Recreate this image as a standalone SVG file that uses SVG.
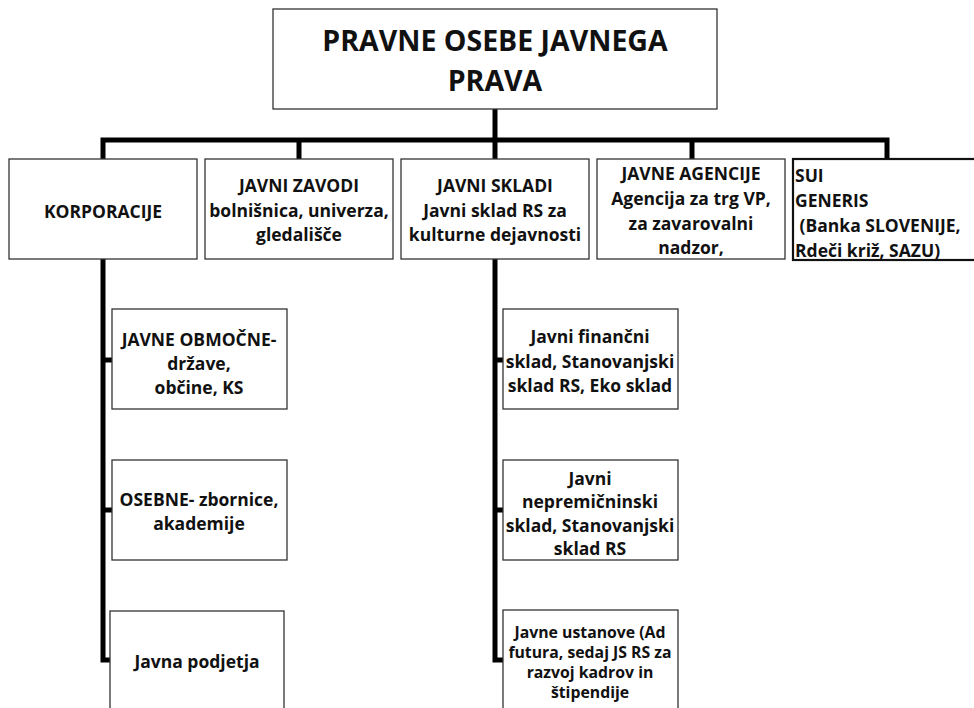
<svg xmlns="http://www.w3.org/2000/svg" width="974" height="708" viewBox="0 0 974 708">
<style>
.box{fill:#fff;stroke:#333;stroke-width:1.3}
.box2{fill:#fff;stroke:#111;stroke-width:2.2}
.t{font-family:"Open Sans",Lato,sans-serif;font-weight:bold;font-size:17.5px;fill:#111;text-anchor:middle}
.tl{text-anchor:start}
.s{font-size:15.8px}
.title{font-size:28.5px}
.c{fill:none;stroke:#000;stroke-width:5;stroke-linejoin:miter;stroke-linecap:butt}
</style>
<rect width="974" height="708" fill="#fff"/>
<g id="connectors">
<path class="c" d="M495 109V140"/>
<path class="c" d="M103 159V140H887V159"/>
<path class="c" d="M299 140V159M495 140V159M692 140V159"/>
<path class="c" d="M103 259V660H111M103 360H112M103 510H112"/>
<path class="c" d="M495 259V660H503M495 360H503M495 510H503"/>
</g>
<g id="root">
<rect class="box" x="273" y="9" width="444" height="100"/>
<text class="t title" x="495" y="51">PRAVNE OSEBE JAVNEGA</text>
<text class="t title" x="495" y="91">PRAVA</text>
</g>
<g id="korporacije">
<rect class="box" x="9" y="159" width="188" height="100"/>
<text class="t" x="103" y="218">KORPORACIJE</text>
</g>
<g id="javni-zavodi">
<rect class="box" x="205" y="159" width="188" height="100"/>
<text class="t" x="299" y="192">JAVNI ZAVODI</text>
<text class="t" x="299" y="217">bolnišnica, univerza,</text>
<text class="t" x="299" y="241">gledališče</text>
</g>
<g id="javni-skladi">
<rect class="box" x="401" y="159" width="188" height="100"/>
<text class="t" x="495" y="192">JAVNI SKLADI</text>
<text class="t" x="495" y="217">Javni sklad RS za</text>
<text class="t" x="495" y="241">kulturne dejavnosti</text>
</g>
<g id="javne-agencije">
<rect class="box" x="597" y="159" width="188" height="100"/>
<text class="t" x="691" y="180">JAVNE AGENCIJE</text>
<text class="t" x="691" y="205">Agencija za trg VP,</text>
<text class="t" x="691" y="230">za zavarovalni</text>
<text class="t" x="691" y="254">nadzor,</text>
</g>
<g id="sui-generis">
<rect class="box2" x="793" y="159" width="190" height="101"/>
<text class="t tl" x="795" y="182">SUI</text>
<text class="t tl" x="795" y="207">GENERIS</text>
<text class="t tl" x="795" y="232" xml:space="preserve"> (Banka SLOVENIJE,</text>
<text class="t tl" x="795" y="257">Rdeči križ, SAZU)</text>
</g>
<g id="javne-obmocne">
<rect class="box" x="112" y="309" width="175" height="100"/>
<text class="t" x="199" y="346">JAVNE OBMOČNE-</text>
<text class="t" x="199" y="370">države,</text>
<text class="t" x="199" y="394">občine, KS</text>
</g>
<g id="osebne">
<rect class="box" x="112" y="460" width="175" height="100"/>
<text class="t" x="199" y="506">OSEBNE- zbornice,</text>
<text class="t" x="199" y="530">akademije</text>
</g>
<g id="javna-podjetja">
<rect class="box" x="110" y="611" width="174" height="110"/>
<text class="t" x="197" y="668">Javna podjetja</text>
</g>
<g id="javni-financni">
<rect class="box" x="503" y="309" width="175" height="100"/>
<text class="t" x="590" y="343">Javni finančni</text>
<text class="t" x="590" y="368">sklad, Stanovanjski</text>
<text class="t" x="590" y="392">sklad RS, Eko sklad</text>
</g>
<g id="javni-nepremicninski">
<rect class="box" x="503" y="460" width="175" height="100"/>
<text class="t" x="590" y="485">Javni</text>
<text class="t" x="590" y="508">nepremičninski</text>
<text class="t" x="590" y="532">sklad, Stanovanjski</text>
<text class="t" x="590" y="555">sklad RS</text>
</g>
<g id="javne-ustanove">
<rect class="box" x="503" y="610" width="175" height="110"/>
<text class="t s" x="590" y="638">Javne ustanove (Ad</text>
<text class="t s" x="590" y="658">futura, sedaj JS RS za</text>
<text class="t s" x="590" y="678">razvoj kadrov in</text>
<text class="t s" x="590" y="698">štipendije</text>
</g>
</svg>
